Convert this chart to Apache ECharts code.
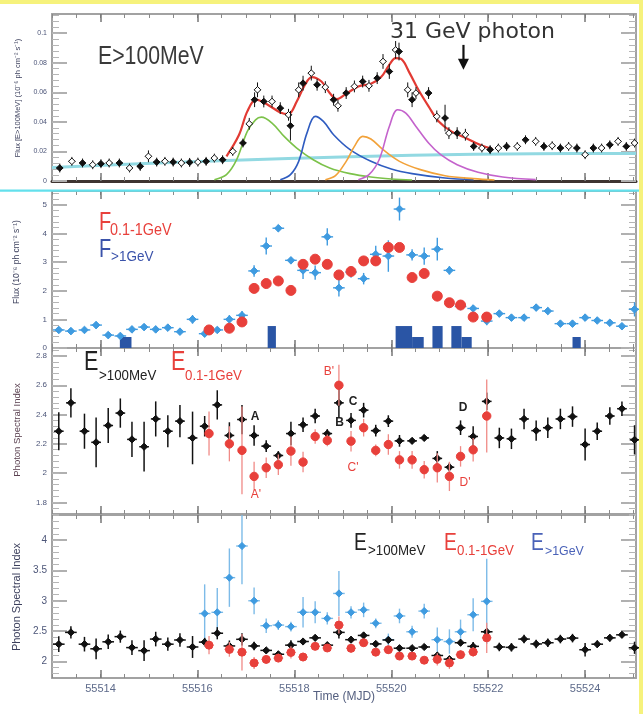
<!DOCTYPE html>
<html><head><meta charset="utf-8">
<script src="https://cdn.jsdelivr.net/npm/echarts@6/dist/echarts.min.js"></script>
<style>html,body{margin:0;padding:0;background:#fff;}#c{width:643px;height:714px;}</style>
</head><body><div id="c"></div>
<script>
// ---------------- DATA ----------------
// Panel 1: E>100 MeV light curve
const lcMJD = [55513.16,55513.41,55513.63,55513.84,55514.01,55514.18,55514.39,55514.60,55514.82,55514.99,
 55515.16,55515.33,55515.50,55515.67,55515.84,55516.01,55516.18,55516.35,55516.52,55516.73,
 55516.94,55517.07,55517.18,55517.24,55517.37,55517.54,55517.71,55517.88,55517.92,55518.09,
 55518.18,55518.35,55518.47,55518.64,55518.81,55518.90,55519.07,55519.24,55519.41,55519.54,
 55519.71,55519.83,55519.96,55520.09,55520.16,55520.34,55520.43,55520.51,55520.77,55520.94,
 55521.11,55521.19,55521.36,55521.53,55521.70,55521.87,55522.04,55522.21,55522.38,55522.60,
 55522.77,55522.98,55523.15,55523.32,55523.49,55523.66,55523.83,55524.00,55524.17,55524.34,
 55524.51,55524.68,55524.85,55525.02];
const lcFlux = [0.0088,0.0133,0.0122,0.0110,0.0117,0.0122,0.0122,0.0088,0.0099,0.0167,
 0.0128,0.0133,0.0128,0.0122,0.0126,0.0128,0.0133,0.0155,0.0144,0.0200,
 0.0257,0.0387,0.0550,0.0617,0.0538,0.0538,0.0493,0.0448,0.0374,0.0617,
 0.0662,0.0730,0.0651,0.0635,0.0550,0.0509,0.0595,0.0640,0.0673,0.0644,
 0.0696,0.0809,0.0741,0.0887,0.0876,0.0617,0.0550,0.0595,0.0595,0.0437,
 0.0426,0.0324,0.0324,0.0313,0.0234,0.0223,0.0212,0.0223,0.0234,0.0234,
 0.0279,0.0268,0.0234,0.0239,0.0223,0.0234,0.0223,0.0178,0.0223,0.0223,
 0.0245,0.0268,0.0234,0.0257];
const lcErr = [0.003,0.003,0.003,0.003,0.003,0.003,0.003,0.003,0.003,0.004,
 0.003,0.003,0.003,0.003,0.003,0.003,0.003,0.003,0.003,0.003,
 0.003,0.004,0.005,0.005,0.004,0.004,0.004,0.004,0.010,0.005,
 0.005,0.005,0.004,0.004,0.004,0.004,0.004,0.004,0.004,0.004,
 0.004,0.005,0.005,0.006,0.006,0.005,0.005,0.004,0.004,0.004,
 0.009,0.004,0.004,0.004,0.003,0.003,0.003,0.003,0.003,0.003,
 0.003,0.003,0.003,0.003,0.003,0.003,0.003,0.003,0.003,0.003,
 0.003,0.003,0.003,0.003];
// fit curves
const fitMJD = [55516.60,55516.86,55517.03,55517.21,55517.45,55517.71,55517.88,55518.05,55518.22,55518.36,55518.56,55518.73,55518.88,55519.07,55519.32,55519.58,55519.79,55519.96,55520.09,55520.21,55520.38,55520.56,55520.77,55520.98,55521.24,55521.54,55521.83,55522.09];
const fitFlux = [0.0167,0.0313,0.0471,0.0550,0.0516,0.0464,0.0453,0.0538,0.0651,0.0703,0.0673,0.0595,0.0554,0.0590,0.0640,0.0658,0.0703,0.0786,0.0831,0.0824,0.0730,0.0617,0.0505,0.0403,0.0336,0.0291,0.0245,0.0216];
const flareAMJD = [55516.35,55516.60,55516.81,55517.03,55517.20,55517.32,55517.54,55517.79,55518.05,55518.39,55518.73,55519.15,55519.58,55520.00,55520.43];
const flareAFlux = [0.0009,0.0043,0.0144,0.0336,0.0414,0.0432,0.0392,0.0302,0.0223,0.0144,0.0088,0.0050,0.0027,0.0014,0.0007];
const flareBMJD = [55517.71,55517.92,55518.09,55518.26,55518.43,55518.60,55518.81,55519.15,55519.58,55520.00,55520.43,55521.11,55521.70];
const flareBFlux = [0.0009,0.0043,0.0133,0.0324,0.0437,0.0403,0.0313,0.0212,0.0133,0.0081,0.0050,0.0020,0.0009];
const flareCMJD = [55518.64,55518.85,55519.07,55519.24,55519.41,55519.58,55519.83,55520.17,55520.60,55521.11,55521.70,55522.13];
const flareCFlux = [0.0009,0.0036,0.0133,0.0234,0.0302,0.0284,0.0212,0.0133,0.0077,0.0036,0.0016,0.0007];
const flareDMJD = [55519.32,55519.54,55519.75,55519.96,55520.13,55520.30,55520.51,55520.77,55521.02,55521.36,55521.79,55522.30,55522.98];
const flareDFlux = [0.0009,0.0043,0.0144,0.0369,0.0482,0.0459,0.0369,0.0257,0.0178,0.0110,0.0059,0.0027,0.0009];
const baseMJD = [55513.00,55515.33,55517.88,55520.43,55522.98,55525.05];
const baseFlux = [0.0092,0.0124,0.0152,0.0174,0.0184,0.0186];
const photonMJD = 55521.49;
const photonArrow = [0.0921, 0.0752];

// 6-hour bins (panels 2-4)
const binMJD = [55513.14,55513.39,55513.67,55513.91,55514.16,55514.41,55514.65,55514.90,55515.14,55515.39,55515.64,55515.90,
 55516.15,55516.41,55516.66,55516.92,55517.17,55517.42,55517.67,55517.93,55518.18,55518.43,55518.68,55518.92,
 55519.17,55519.43,55519.68,55519.94,55520.17,55520.43,55520.68,55520.95,55521.20,55521.43,55521.69,55521.97,
 55522.23,55522.48,55522.74,55522.99,55523.23,55523.49,55523.74,55524.00,55524.25,55524.51,55524.76,55525.02];
const fluxHigh = [0.63,0.59,0.63,0.80,0.45,0.42,0.65,0.73,0.65,0.71,0.57,1.00,
 0.50,0.63,1.00,1.14,2.69,3.56,4.18,3.06,2.71,2.63,3.88,2.10,
 2.65,2.42,3.27,3.21,4.85,3.25,3.21,3.45,2.71,1.45,1.38,0.94,
 1.20,1.06,1.06,1.41,1.29,0.85,0.85,1.06,0.96,0.88,0.76,1.35];
const fluxHighErr = [0.10,0.10,0.10,0.12,0.10,0.10,0.10,0.10,0.10,0.10,0.10,0.15,
 0.10,0.10,0.15,0.15,0.20,0.30,0.12,0.10,0.30,0.25,0.30,0.30,
 0.20,0.20,0.30,0.55,0.40,0.20,0.30,0.40,0.15,0.12,0.12,0.15,
 0.10,0.10,0.10,0.12,0.12,0.10,0.10,0.12,0.10,0.10,0.10,0.25];
const redMJD = [55516.24,55516.66,55516.92,55517.17,55517.42,55517.67,55517.93,55518.18,55518.43,55518.68,55518.92,55519.17,
 55519.43,55519.68,55519.94,55520.17,55520.43,55520.68,55520.95,55521.20,55521.43,55521.69,55521.97];
const fluxLow = [0.63,0.69,0.91,2.08,2.25,2.34,2.01,2.92,3.10,2.92,2.55,2.67,3.04,3.04,3.51,3.51,2.46,2.60,1.81,1.58,1.50,1.08,1.08];
const fluxLowErr = [0.06,0.06,0.06,0.06,0.06,0.06,0.06,0.06,0.06,0.06,0.06,0.06,0.06,0.06,0.06,0.06,0.06,0.06,0.06,0.06,0.06,0.06,0.06];
// >10 GeV photon counts (histogram)
const histStart = [55514.40,55517.45,55520.09,55520.43,55520.85,55521.24,55521.45,55523.74];
const histEnd   = [55514.64,55517.62,55520.43,55520.67,55521.06,55521.45,55521.66,55523.91];
const histCount = [1,2,2,1,2,2,1,1];

// Photon indices
const indexAll = [2.286,2.48,2.286,2.21,2.325,2.41,2.23,2.18,2.37,2.286,2.355,2.24,
 2.32,2.466,2.257,2.366,2.257,2.184,2.12,2.27,2.33,2.39,2.27,2.48,
 2.36,2.43,2.29,2.355,2.22,2.22,2.24,2.10,2.04,2.31,2.25,2.49,
 2.24,2.234,2.37,2.29,2.31,2.37,2.386,2.195,2.286,2.39,2.44,2.227];
const indexAllErr = [0.13,0.10,0.12,0.17,0.12,0.10,0.12,0.17,0.12,0.11,0.11,0.18,
 0.07,0.10,0.09,0.10,0.07,0.04,0.03,0.08,0.05,0.05,0.03,0.10,
 0.05,0.05,0.04,0.04,0.04,0.02,0.02,0.05,0.03,0.05,0.07,0.06,
 0.07,0.07,0.07,0.07,0.07,0.07,0.07,0.11,0.06,0.06,0.05,0.10];
const indexLow = [2.27,2.20,2.155,1.977,2.036,2.057,2.15,2.075,2.25,2.223,2.60,2.218,2.31,2.155,2.195,2.09,2.09,2.023,2.036,1.977,2.114,2.159,2.39];
const indexLowErr = [0.15,0.12,0.30,0.10,0.07,0.07,0.10,0.07,0.05,0.04,0.14,0.07,0.06,0.04,0.07,0.06,0.06,0.06,0.10,0.10,0.07,0.08,0.25];
const hiMJD = [55516.15,55516.41,55516.66,55516.92,55517.17,55517.42,55517.67,55517.93,55518.18,55518.43,55518.68,55518.92,
 55519.17,55519.43,55519.68,55519.94,55520.17,55520.43,55520.68,55520.95,55521.20,55521.43,55521.69,55521.97];
const indexHigh = [2.79,2.81,3.38,3.90,3.00,2.59,2.60,2.575,2.81,2.81,2.71,3.12,2.81,2.85,2.63,2.36,2.75,2.49,2.83,2.36,2.33,2.49,2.77,2.99];
const indexHighErr = [0.48,0.40,0.48,0.63,0.22,0.12,0.08,0.08,0.25,0.18,0.10,0.37,0.10,0.12,0.08,0.10,0.12,0.10,0.12,0.20,0.20,0.20,0.27,0.70];

// tick labels
const xTickLabels = [55514,55516,55518,55520,55522,55524];
const p1Ticks = [0,0.02,0.04,0.06,0.08,0.1];
const p2Ticks = [0,1,2,3,4,5];
const p3Ticks = [1.8,2,2.2,2.4,2.6,2.8];
const p4Ticks = [2,2.5,3,3.5,4];

// ---------------- LAYOUT / STYLE ----------------
const X_MIN = 55513, X_MAX = 55525.05;
function steps(a, b, s){const o=[];for(let k=0;a+k*s<=b+1e-9;k++)o.push(+(a+k*s).toFixed(6));return o;}
const FONT = 'Liberation Sans, Arial, sans-serif';
const RED = '#e8403b', LBLUE = '#3f9be0', DBLUE = '#2a55a5', TXTBLUE = '#3a52aa';
const panels = [
 {top:14,height:167,min:0,max:0.113,maj:p1Ticks,minr:steps(0,0.112,0.004),fs:7},
 {top:191,height:157,min:0,max:5.48,maj:p2Ticks,minr:steps(0,5.4,0.2),fs:8},
 {top:348,height:166,min:1.72,max:2.855,maj:p3Ticks,minr:steps(1.72,2.84,0.04),fs:8},
 {top:515,height:163,min:1.73,max:4.41,maj:p4Ticks,minr:steps(1.8,4.4,0.1),fs:10}
];
const grid=[],xAxis=[],yAxis=[],mainX=[],mainY=[];
let histAxis=0;
const xMinor = steps(55513,55525,0.5);
const frame = {color:'#a2a2a2',width:2};
panels.forEach((p,i)=>{
  grid.push({left:52,width:584,top:p.top,height:p.height,containLabel:false});
  mainX[i]=xAxis.length;
  ['bottom','top'].forEach(pos=>{
    xAxis.push({gridIndex:i,type:'value',min:X_MIN,max:X_MAX,position:pos,
      axisLine:{show:true,onZero:false,lineStyle:(i===0&&pos==='bottom')?{color:'#3d3431',width:3}:frame},
      axisTick:{show:true,inside:true,length:4,customValues:xMinor,lineStyle:{color:'#8a8a8a',width:1}},
      axisLabel:{show:false},splitLine:{show:false}});
    xAxis.push({gridIndex:i,type:'value',min:X_MIN,max:X_MAX,position:pos,
      axisLine:{show:false,onZero:false},
      axisTick:{show:true,inside:true,length:8,customValues:xTickLabels,lineStyle:{color:'#777',width:1.5}},
      axisLabel:{show:(i===3&&pos==='bottom'),customValues:xTickLabels,fontSize:11,fontFamily:FONT,color:'#5d6a8a',margin:5,formatter:v=>String(v)},
      splitLine:{show:false}});
  });
  mainY[i]=yAxis.length;
  ['left','right'].forEach(pos=>{
    yAxis.push({gridIndex:i,type:'value',min:p.min,max:p.max,position:pos,
      axisLine:{show:true,onZero:false,lineStyle:frame},
      axisTick:{show:true,inside:true,length:15,customValues:p.maj,lineStyle:{color:'#b0b0b0',width:2}},
      axisLabel:{show:pos==='left',customValues:p.maj,fontSize:p.fs,fontFamily:FONT,color:'#4c5578',margin:5,formatter:v=>String(v)},
      splitLine:{show:false}});
    yAxis.push({gridIndex:i,type:'value',min:p.min,max:p.max,position:pos,
      axisLine:{show:false,onZero:false},
      axisTick:{show:true,inside:true,length:7,customValues:p.minr,lineStyle:{color:'#b5b5b5',width:1}},
      axisLabel:{show:false},splitLine:{show:false}});
  });
  if(i===1){histAxis=yAxis.length;yAxis.push({gridIndex:1,type:'value',min:0,max:14.3,show:false});}
});

function sym(kind,cx,cy,r,fill,stroke){
  if(kind==='circle')return {type:'circle',shape:{cx,cy,r},style:{fill,stroke,lineWidth:1}};
  return {type:'polygon',shape:{points:[[cx,cy-r],[cx+r,cy],[cx,cy+r],[cx-r,cy]]},style:{fill,stroke,lineWidth:1}};
}
function errSeries(name,gi,xs,ys,es,o){
  return {type:'custom',name,xAxisIndex:mainX[gi],yAxisIndex:mainY[gi],z:o.z||5,
    encode:{x:0,y:1},data:xs.map((x,k)=>[x,ys[k],es[k]]),
    renderItem(params,api){
      const x=api.value(0),y=api.value(1),e=api.value(2),cs=params.coordSys;
      const c=api.coord([x,y]);
      let y1=Math.max(api.coord([x,y+e])[1],cs.y), y2=Math.min(api.coord([x,y-e])[1],cs.y+cs.height);
      const xl=api.coord([x-o.xerr,y])[0], xr=api.coord([x+o.xerr,y])[0];
      const ls={stroke:o.errColor||o.color,lineWidth:o.lw||1.2};
      const kids=[{type:'line',shape:{x1:c[0],y1,x2:c[0],y2},style:ls},
                  {type:'line',shape:{x1:xl,y1:c[1],x2:xr,y2:c[1]},style:ls}];
      let fill=o.color;
      if(o.alt && params.dataIndex%2===1) fill='#fff';
      kids.push(sym(o.kind,c[0],c[1],o.r,fill,o.stroke||o.color));
      return {type:'group',children:kids};
    }};
}
function lineSeries(xs,ys,color,w,z){
  return {type:'line',xAxisIndex:mainX[0],yAxisIndex:mainY[0],data:xs.map((x,k)=>[x,ys[k]]),
    showSymbol:false,smooth:0.35,lineStyle:{color,width:w},z:z||3,silent:true};
}
const series=[
  lineSeries(baseMJD,baseFlux,'#92d9e2',3,2),
  lineSeries(flareAMJD,flareAFlux,'#7cc24a',1.6),
  lineSeries(flareBMJD,flareBFlux,'#2f5cc0',1.6),
  lineSeries(flareCMJD,flareCFlux,'#f2a23a',1.6),
  lineSeries(flareDMJD,flareDFlux,'#c463cc',1.6),
  lineSeries(fitMJD,fitFlux,'#e23a33',2.2,4),
  errSeries('lc',0,lcMJD,lcFlux,lcErr,{kind:'diamond',r:3.3,color:'#111',xerr:0.07,lw:1,alt:true,z:6}),
  {type:'custom',xAxisIndex:mainX[0],yAxisIndex:mainY[0],encode:{x:0,y:1},z:8,
    data:[[photonMJD,photonArrow[0],photonArrow[1]]],
    renderItem(params,api){
      const a=api.coord([api.value(0),api.value(1)]),b=api.coord([api.value(0),api.value(2)]);
      return {type:'group',children:[
        {type:'line',shape:{x1:a[0],y1:a[1],x2:b[0],y2:b[1]-8},style:{stroke:'#111',lineWidth:2.2}},
        {type:'polygon',shape:{points:[[b[0]-5.5,b[1]-11],[b[0]+5.5,b[1]-11],[b[0],b[1]]]},style:{fill:'#111'}}]};
    }},
  // panel 2
  {type:'custom',xAxisIndex:mainX[1],yAxisIndex:histAxis,encode:{x:[0,1],y:2},z:3,
    data:histStart.map((s,k)=>[s,histEnd[k],histCount[k]]),
    renderItem(params,api){
      const p0=api.coord([api.value(0),api.value(2)]),p1=api.coord([api.value(1),0]);
      return {type:'rect',shape:{x:p0[0],y:p0[1],width:p1[0]-p0[0],height:p1[1]-p0[1]},style:{fill:DBLUE}};
    }},
  errSeries('F>1GeV',1,binMJD,fluxHigh,fluxHighErr,{kind:'diamond',r:3.8,color:LBLUE,xerr:0.12,lw:1.4,z:5}),
  errSeries('F0.1-1GeV',1,redMJD,fluxLow,fluxLowErr,{kind:'circle',r:5,color:RED,xerr:0.05,lw:1,z:6}),
  // panel 3
  errSeries('E>100MeV',2,binMJD,indexAll,indexAllErr,{kind:'diamond',r:3.6,color:'#111',xerr:0.1,lw:1.5,z:5}),
  errSeries('E0.1-1GeV',2,redMJD,indexLow,indexLowErr,{kind:'circle',r:4.2,color:RED,errColor:'#f08a86',xerr:0.05,lw:1.3,z:6}),
  // panel 4
  errSeries('E>1GeV',3,hiMJD,indexHigh,indexHighErr,{kind:'diamond',r:3.6,color:LBLUE,errColor:'#7dbbe8',xerr:0.12,lw:1.4,z:4}),
  errSeries('E>100MeV4',3,binMJD,indexAll,indexAllErr,{kind:'diamond',r:3.6,color:'#111',xerr:0.12,lw:1.5,z:5}),
  errSeries('E0.1-1GeV4',3,redMJD,indexLow,indexLowErr,{kind:'circle',r:4,color:RED,errColor:'#f08a86',xerr:0.1,lw:1.3,z:6})
];

function T(x,y,text,size,color,o){
  o=o||{};
  return {type:'text',x,y,scaleX:o.sx||1,rotation:o.rot||0,z:100,
    style:{text,fontSize:size,fontFamily:o.ff||FONT,fontWeight:o.fw||'normal',fill:color,
      align:o.align||'left',verticalAlign:'middle'}};
}
const graphic=[
  {type:'rect',shape:{x:0,y:0,width:643,height:4},style:{fill:'#f6f27c'},z:200},
  {type:'rect',shape:{x:639,y:0,width:4,height:714},style:{fill:'#f6f27c'},z:200},
  {type:'rect',shape:{x:0,y:189.5,width:639,height:2.2},style:{fill:'#63e0ec'},z:200},
  T(98,57.5,'E>100MeV',25,'#3a3a3a',{sx:0.85}),
  T(390,32,'31 GeV photon',22,'#333',{ff:'DejaVu Sans'}),
  T(99,223,'F',25,RED,{sx:0.8}),
  T(110,231,'0.1-1GeV',16,RED,{sx:0.9}),
  T(99,250,'F',25,TXTBLUE,{sx:0.8}),
  T(111,257,'>1GeV',15,TXTBLUE,{sx:0.9}),
  T(84,363,'E',27,'#222',{sx:0.8}),
  T(99,376,'>100MeV',14,'#222',{sx:0.95}),
  T(171,363,'E',27,RED,{sx:0.8}),
  T(185,376,'0.1-1GeV',14,RED,{sx:0.95}),
  T(354,543.5,'E',24,'#222',{sx:0.8}),
  T(368,551.5,'>100MeV',14,'#222',{sx:0.95}),
  T(444,543.5,'E',24,RED,{sx:0.8}),
  T(457,551.5,'0.1-1GeV',14,RED,{sx:0.95}),
  T(531,543.5,'E',24,'#4a62b8',{sx:0.8}),
  T(545,551.5,'>1GeV',13,'#4a62b8',{sx:0.95}),
  T(255,417,'A',12,'#222',{fw:'bold',align:'center'}),
  T(256,495,"A'",12,RED,{align:'center'}),
  T(339.5,423,'B',12,'#222',{fw:'bold',align:'center'}),
  T(329,372,"B'",12,RED,{align:'center'}),
  T(353,402,'C',12,'#222',{fw:'bold',align:'center'}),
  T(353,468,"C'",12,RED,{align:'center'}),
  T(463,408,'D',12,'#222',{fw:'bold',align:'center'}),
  T(465,483,"D'",12,RED,{align:'center'}),
  T(18,98,'Flux [E>100MeV] (10⁻⁶ ph cm⁻² s⁻¹)',7.5,'#3b3f5c',{rot:Math.PI/2,align:'center'}),
  T(17,262,'Flux (10⁻⁶ ph cm⁻² s⁻¹)',8.5,'#3b3f5c',{rot:Math.PI/2,align:'center'}),
  T(17,430,'Photon Spectral Index',9.5,'#5a4050',{rot:Math.PI/2,align:'center'}),
  T(17,597,'Photon Spectral Index',11,'#3b3f5c',{rot:Math.PI/2,align:'center'}),
  T(344,697,'Time (MJD)',12,'#556080',{align:'center'})
];

const chart=echarts.init(document.getElementById('c'),null,{renderer:'canvas'});
chart.setOption({animation:false,backgroundColor:'#fff',grid,xAxis,yAxis,series,graphic});
</script></body></html>
